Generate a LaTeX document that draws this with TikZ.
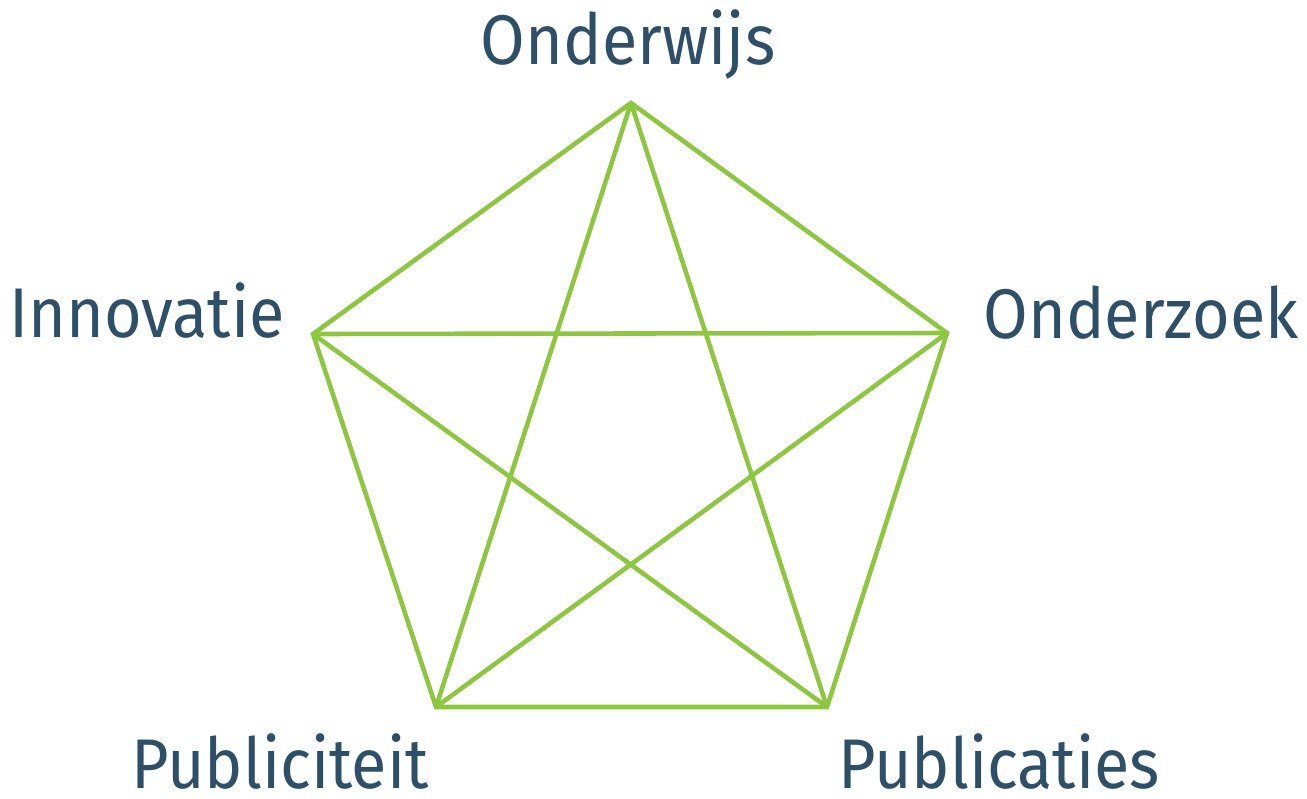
\documentclass[tikz,border=0pt]{standalone}
\usepackage{fontspec}
\setmainfont{Fira Sans}[FakeStretch=0.92]
\definecolor{lg}{HTML}{8DC63F}
\definecolor{tx}{HTML}{2E4F68}
\begin{document}
\begin{tikzpicture}[x=0.02cm,y=-0.02cm,
  edge/.style={draw=lg,line width=2.6pt,line join=miter},
  lbl/.style={text=tx,inner sep=0pt,font=\fontsize{40}{48}\selectfont}]
\useasboundingbox (0,0) rectangle (1307,798);
\coordinate (T) at (631,103);
\coordinate (L) at (313,334);
\coordinate (R) at (947,333);
\coordinate (BL) at (436,707);
\coordinate (BR) at (827,707);
\draw[edge] (T) -- (R) -- (BR) -- (BL) -- (L) -- cycle;
\draw[edge] (T) -- (BL);
\draw[edge] (T) -- (BR);
\draw[edge] (L) -- (R);
\draw[edge] (L) -- (BR);
\draw[edge] (R) -- (BL);
\node[lbl,anchor=base] (onderwijs) at (628,64) {Onderwijs};
\node[lbl,anchor=base] (innovatie) at (147,337) {Innovatie};
\node[lbl,anchor=base] (onderzoek) at (1141,338) {Onderzoek};
\node[lbl,anchor=base] (publiciteit) at (280,788) {Publiciteit};
\node[lbl,anchor=base] (publicaties) at (999,788) {Publicaties};
\end{tikzpicture}
\end{document}
